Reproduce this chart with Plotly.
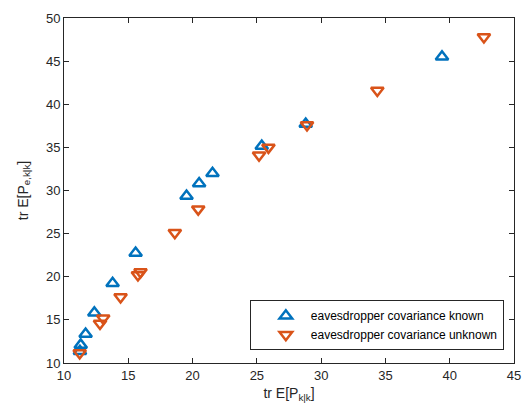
import plotly.graph_objects as go

known_x = [11.24, 11.3, 11.68, 12.36, 13.78, 15.57, 19.53, 20.51, 21.55, 25.38, 28.8, 39.4]
known_y = [11.36, 12.1, 13.37, 15.83, 19.24, 22.76, 29.35, 30.8, 32.0, 35.15, 37.7, 45.5]

unknown_x = [11.22, 12.8, 13.05, 14.4, 15.75, 15.95, 18.62, 20.44, 25.17, 25.9, 28.9, 34.37, 42.66]
unknown_y = [11.17, 14.58, 15.2, 17.65, 20.2, 20.55, 25.1, 27.84, 34.1, 35.0, 37.6, 41.6, 47.8]

x_ticks = [10, 15, 20, 25, 30, 35, 40, 45]
y_ticks = [10, 15, 20, 25, 30, 35, 40, 45, 50]

BLUE = "#0072BD"
ORANGE = "#D95319"
FONT = "Liberation Sans, Arial"

fig = go.Figure()
fig.add_trace(go.Scatter(
    x=known_x, y=known_y, mode="markers",
    name="eavesdropper covariance known",
    marker=dict(symbol="triangle-up-open", size=11, color=BLUE, line=dict(width=2.5, color=BLUE)),
))
fig.add_trace(go.Scatter(
    x=unknown_x, y=unknown_y, mode="markers",
    name="eavesdropper covariance unknown",
    marker=dict(symbol="triangle-down-open", size=11, color=ORANGE, line=dict(width=2.5, color=ORANGE)),
))

axis_common = dict(
    showgrid=False, zeroline=False, showline=True, linecolor="#262626", linewidth=1,
    mirror="ticks", ticks="inside", ticklen=5, tickcolor="#262626",
    tickfont=dict(family=FONT, size=13, color="#262626"),
)

fig.update_xaxes(range=[10, 45], tickvals=x_ticks, **axis_common,
                 title=dict(text="tr E[P<sub>k|k</sub>]", font=dict(family=FONT, size=14, color="#262626"), standoff=6))
fig.update_yaxes(range=[10, 50], tickvals=y_ticks, **axis_common,
                 title=dict(text="tr E[P<sub>e,k|k</sub>]", font=dict(family=FONT, size=14, color="#262626"), standoff=14))

fig.update_layout(
    width=532, height=414,
    margin=dict(l=64, r=18, t=11, b=51),
    plot_bgcolor="white", paper_bgcolor="white",
    font=dict(family=FONT, size=12, color="#000000"),
    legend=dict(x=0.413, y=0.182, xanchor="left", yanchor="top",
                bordercolor="#262626", borderwidth=1, bgcolor="white",
                font=dict(family=FONT, size=12, color="#000000"), tracegroupgap=0,
                indentation=10, itemwidth=40),
    showlegend=True,
)

fig.write_html("out.html")
